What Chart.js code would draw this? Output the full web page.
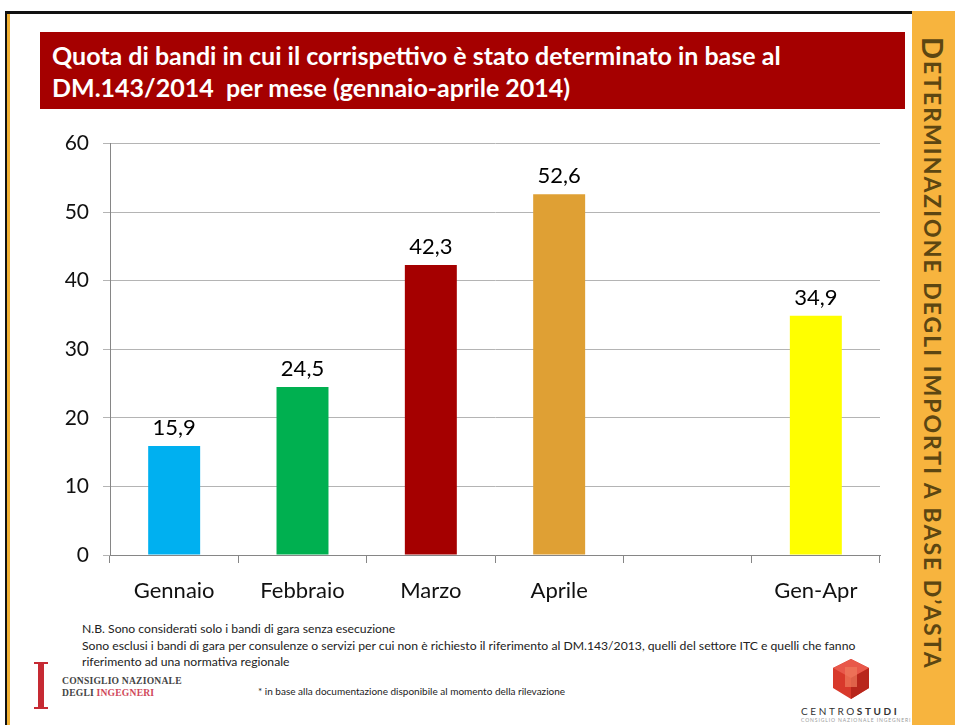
<!DOCTYPE html>
<html lang="it">
<head>
<meta charset="utf-8">
<title>Quota di bandi DM.143/2014</title>
<script src="https://cdn.jsdelivr.net/npm/chart.js@4.4.0/dist/chart.umd.min.js"></script>
<style>
  html, body { margin: 0; padding: 0; background: #fff; }
  body { width: 955px; height: 725px; position: relative; overflow: hidden; font-family: Lato, "Open Sans", sans-serif; }
  .frame-top { position: absolute; left: 5px; top: 11px; width: 907px; height: 3px; background: #111; }
  .frame-left { position: absolute; left: 5px; top: 11px; width: 2px; height: 714px; background: #111; }
  .frame-left2 { position: absolute; left: 7px; top: 14px; width: 3px; height: 711px; background: #f2b134; }
  .sidebar { position: absolute; left: 912px; top: 11px; width: 43px; height: 714px; background: #f7b43e; }
  .sidebar-text { position: absolute; left: 912px; top: 37px; width: 43px; writing-mode: vertical-rl; font-weight: 700; font-size: 23px; line-height: 43px; color: #5c4612; white-space: nowrap; letter-spacing: 2px; }
  .sidebar-text .cap { font-size: 29px; }
  .banner { position: absolute; left: 40px; top: 32px; width: 865px; height: 77px; background: #a50000; }
  .banner p { margin: 0; padding: 7px 0 0 12px; color: #fff; font-weight: 700; font-size: 25px; line-height: 32px; }
  #chart { position: absolute; left: 40px; top: 117px; }
  .notes { position: absolute; left: 82px; top: 621px; font-size: 12.2px; line-height: 16.5px; color: #222; }
  .asterisk { position: absolute; left: 258px; top: 685px; font-size: 10px; color: #222; }
  .cni-stem { position: absolute; left: 38px; top: 663px; width: 6px; height: 45px; background: #c62a33; }
  .cni-serif { position: absolute; left: 34px; width: 14px; height: 2px; background: #c62a33; }
  .cni-text { position: absolute; left: 62px; top: 675px; font-family: "Liberation Serif", "DejaVu Serif", serif; font-weight: 700; font-size: 9.6px; line-height: 12px; color: #444; letter-spacing: 0.2px; }
  .cni-text .red { color: #d0485a; }
  .cs-logo { position: absolute; left: 829px; top: 658px; }
  .cs-text { position: absolute; left: 801px; top: 705px; font-size: 10px; letter-spacing: 2.6px; color: #333; }
  .cs-text b { font-weight: 700; }
  .cs-sub { position: absolute; left: 801px; top: 717px; font-size: 5px; letter-spacing: 0.9px; color: #999; }
</style>
</head>
<body>
<div class="frame-top"></div>
<div class="frame-left"></div>
<div class="frame-left2"></div>
<div class="sidebar"></div>
<div class="sidebar-text"><span class="cap">D</span>ETERMINAZIONE DEGLI IMPORTI A BASE D’ASTA</div>

<div class="banner"><p>Quota di bandi in cui il corrispettivo è stato determinato in base al<br>DM.143/2014&nbsp; per mese (gennaio-aprile 2014)</p></div>

<canvas id="chart" width="860" height="498"></canvas>

<div class="notes">N.B. Sono considerati solo i bandi di gara senza esecuzione<br>Sono esclusi i bandi di gara per consulenze o servizi per cui non è richiesto il riferimento al DM.143/2013, quelli del settore ITC e quelli che fanno<br>riferimento ad una normativa regionale</div>
<div class="asterisk">* in base alla documentazione disponibile al momento della rilevazione</div>

<div class="cni-stem"></div>
<div class="cni-serif" style="top:662px"></div>
<div class="cni-serif" style="top:707px"></div>
<div class="cni-text">CONSIGLIO NAZIONALE<br>DEGLI <span class="red">INGEGNERI</span></div>

<svg class="cs-logo" width="44" height="42" viewBox="0 0 44 42">
  <polygon points="22,1 40,10 40,30 22,41 4,30 4,10" fill="#d8392b"/>
  <polygon points="22,1 40,10 22,20 4,10" fill="#e8584a"/>
  <polygon points="22,20 40,10 40,30 22,41" fill="#b8261c"/>
  <rect x="16" y="9" width="12" height="20" fill="#f07a5c" opacity="0.7"/>
</svg>
<div class="cs-text">CENTRO<b>STUDI</b></div>
<div class="cs-sub">CONSIGLIO NAZIONALE INGEGNERI</div>

<script>
// dati del grafico
const mesi = ['Gennaio', 'Febbraio', 'Marzo', 'Aprile', '', 'Gen-Apr'];
const quote = [15.9, 24.5, 42.3, 52.6, null, 34.9];
const colori = ['#00b0f0', '#00b050', '#a50000', '#dfa034', '#ffffff', '#ffff00'];
const yTicks = [0, 10, 20, 30, 40, 50, 60];

const fontBase = 'Lato, "Open Sans", sans-serif';

// Plugin per scrivere il valore sopra ogni barra
const etichetteValori = {
    id: 'etichetteValori',
    afterDatasetsDraw(chart) {
        const ctx = chart.ctx;
        const meta = chart.getDatasetMeta(0);
        ctx.save();
        ctx.fillStyle = '#000';
        ctx.font = '22px ' + fontBase;
        ctx.textAlign = 'center';
        ctx.textBaseline = 'alphabetic';
        meta.data.forEach((bar, i) => {
            const v = quote[i];
            if (v === null) return;
            ctx.fillText(v.toFixed(1).replace('.', ','), bar.x, bar.y - 11);
        });
        ctx.restore();
    }
};

new Chart(document.getElementById('chart'), {
    type: 'bar',
    data: {
        labels: mesi,
        datasets: [{
            data: quote,
            backgroundColor: colori,
            borderWidth: 0,
            barPercentage: 0.405,
            categoryPercentage: 1
        }]
    },
    options: {
        responsive: false,
        animation: false,
        devicePixelRatio: 1,
        layout: { padding: { left: 0, right: 20, top: 13, bottom: 0 } },
        plugins: {
            legend: { display: false },
            tooltip: { enabled: false }
        },
        scales: {
            y: {
                min: 0,
                max: 60,
                afterFit(scale) { scale.width = 70; },
                afterBuildTicks(scale) { scale.ticks = yTicks.map(v => ({ value: v })); },
                grid: { color: '#b4b4b4', tickLength: 7 },
                border: { display: true, color: '#868686' },
                ticks: { color: '#111', padding: 14, font: { size: 21, family: fontBase } }
            },
            x: {
                afterFit(scale) { scale.height = 60; },
                grid: { offset: true, drawOnChartArea: false, tickLength: 8, color: '#868686' },
                border: { display: true, color: '#868686' },
                ticks: { color: '#111', padding: 15, font: { size: 22, family: fontBase } }
            }
        }
    },
    plugins: [etichetteValori]
});
</script>
</body>
</html>
